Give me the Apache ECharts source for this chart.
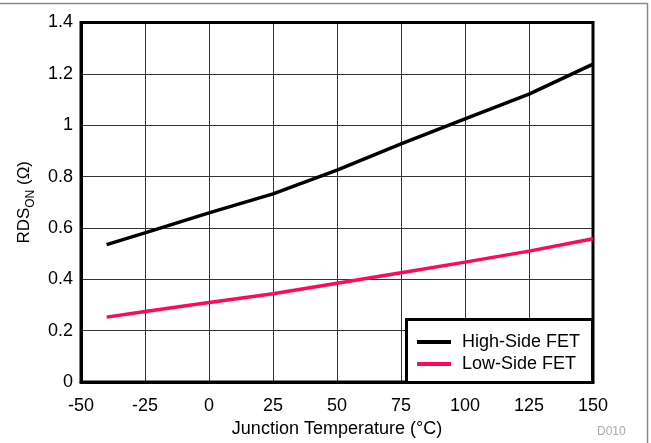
<!DOCTYPE html>
<html>
<head>
<meta charset="utf-8">
<script src="https://cdn.jsdelivr.net/npm/echarts@6/dist/echarts.min.js"></script>
<style>html,body{margin:0;padding:0;background:#fff}#c{width:651px;height:443px}</style>
</head>
<body>
<div id="c"></div>
<script>
const temps = [-40, -25, 0, 25, 50, 75, 100, 125, 150];
const highSide = [0.535, 0.581, 0.659, 0.733, 0.825, 0.927, 1.025, 1.121, 1.238];
const lowSide = [0.253, 0.275, 0.31, 0.344, 0.385, 0.426, 0.467, 0.51, 0.558];
const seriesNames = ['High-Side FET', 'Low-Side FET'];

const FONT = '"Liberation Sans", Arial, Helvetica, sans-serif';
const chart = echarts.init(document.getElementById('c'), null, {renderer: 'canvas'});
chart.setOption({
  animation: false,
  backgroundColor: '#fff',
  textStyle: {fontFamily: FONT},
  grid: {left: 81, right: 58, top: 22.5, bottom: 60, show: true, borderColor: '#000', borderWidth: 3, z: 3},
  xAxis: {
    type: 'value', min: -50, max: 150, interval: 25,
    name: 'Junction Temperature (\u00B0C)', nameLocation: 'middle', nameGap: 33,
    nameTextStyle: {fontSize: 18, color: '#000', fontFamily: FONT},
    axisLine: {show: true, onZero: false, lineStyle: {color: '#000', width: 3}},
    axisTick: {show: false},
    axisLabel: {fontSize: 18, color: '#000', margin: 15, fontFamily: FONT},
    splitLine: {show: true, lineStyle: {color: '#333', width: 1}}
  },
  yAxis: {
    type: 'value', min: 0, max: 1.4, interval: 0.2,
    name: '{m|RDS}{s|ON}{m| (\u03A9)}', nameLocation: 'middle', nameGap: 48, nameRotate: 90,
    nameTextStyle: {
      color: '#000', fontFamily: FONT,
      rich: {
        m: {fontSize: 17, color: '#000', fontFamily: FONT, lineHeight: 20, verticalAlign: 'bottom'},
        s: {fontSize: 12, color: '#000', fontFamily: FONT, lineHeight: 20, verticalAlign: 'bottom', padding: [0, 0, -4, 0]}
      }
    },
    axisLine: {show: true, onZero: false, lineStyle: {color: '#000', width: 3}},
    axisTick: {show: false},
    axisLabel: {fontSize: 18, color: '#000', margin: 8, fontFamily: FONT},
    splitLine: {show: true, lineStyle: {color: '#333', width: 1}}
  },
  legend: {
    orient: 'vertical', left: 412, top: 328,
    icon: 'rect', itemWidth: 34, itemHeight: 4, itemGap: 4,
    textStyle: {fontSize: 18, color: '#000', fontFamily: FONT, padding: [0, 0, 0, 6]},
    data: seriesNames, z: 10
  },
  graphic: [
    {type: 'rect', z: 5, shape: {x: 406.5, y: 319.5, width: 186, height: 63}, style: {fill: '#fff', stroke: '#000', lineWidth: 3}},
    {type: 'line', z: 5, shape: {x1: 0, y1: 3.5, x2: 647.5, y2: 3.5}, style: {stroke: '#888', lineWidth: 1.5}},
    {type: 'line', z: 5, shape: {x1: 647.5, y1: 3, x2: 647.5, y2: 443}, style: {stroke: '#888', lineWidth: 1.5}},
    {type: 'text', z: 5, left: 597, top: 426, style: {text: 'D010', fill: '#aaa', fontSize: 12, fontFamily: FONT}}
  ],
  series: [
    {name: seriesNames[0], type: 'line', data: temps.map((t, i) => [t, highSide[i]]), showSymbol: false, symbol: 'none',
     lineStyle: {color: '#000', width: 3.5}, itemStyle: {color: '#000'}, z: 4},
    {name: seriesNames[1], type: 'line', data: temps.map((t, i) => [t, lowSide[i]]), showSymbol: false, symbol: 'none',
     lineStyle: {color: '#ff0a55', width: 3.5}, itemStyle: {color: '#ff0a55'}, z: 4}
  ]
});
</script>
</body>
</html>
